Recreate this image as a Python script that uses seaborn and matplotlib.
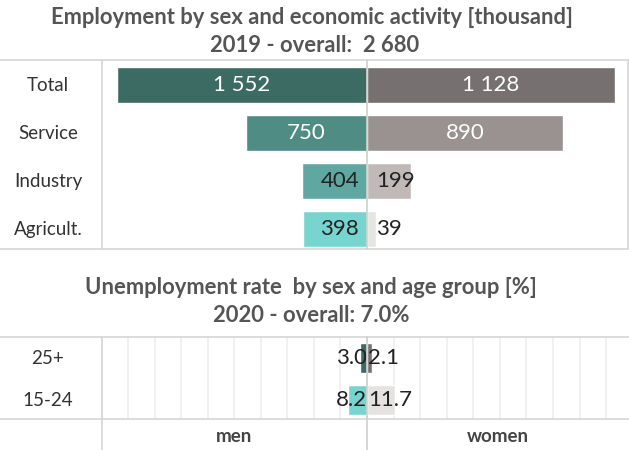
import matplotlib
matplotlib.use("Agg")
import matplotlib.pyplot as plt
import matplotlib.transforms as mtrans
from matplotlib.lines import Line2D
from matplotlib.ticker import MultipleLocator
import seaborn as sns
import pandas as pd

# ---------------- data ----------------
sectors = ["Total", "Service", "Industry", "Agricult."]
emp_men = [1552, 750, 404, 398]
emp_women = [1128, 890, 199, 39]
emp_men_labels = ["1 552", "750", "404", "398"]
emp_women_labels = ["1 128", "890", "199", "39"]

ages = ["25+", "15-24"]
unemp_men = [3.0, 8.2]
unemp_women = [2.1, 11.7]

title1 = "Employment by sex and economic activity [thousand]"
title1b = "2019 - overall:  2 680"
title2 = "Unemployment rate  by sex and age group [%]"
title2b = "2020 - overall: 7.0%"
sex_labels = ["men", "women"]

# ---------------- style ----------------
men_colors = ["#3b6b63", "#4e8c84", "#5fa8a2", "#78d4cf"]
women_colors = ["#767170", "#999291", "#c1b9b8", "#e6e5e4"]
men_colors2 = ["#3b6b63", "#78d4cf"]
women_colors2 = ["#767170", "#e4e3e1"]
LINE = "#d6d6d6"
TITLE_C = "#555555"

sns.set_theme(style="white")
plt.rcParams['font.family'] = ['Lato', 'DejaVu Sans']

W, H = 629, 450
fig = plt.figure(figsize=(W / 100, H / 100), dpi=100)


def ax_px(x0, y0, x1, y1):
    return fig.add_axes([x0 / W, 1 - y1 / H, (x1 - x0) / W, (y1 - y0) / H])


def hline(y, x0, x1, c=LINE):
    fig.add_artist(Line2D([x0 / W, x1 / W], [1 - y / H, 1 - y / H],
                          transform=fig.transFigure, color=c, lw=1.2))


def vline(x, y0, y1, c=LINE):
    fig.add_artist(Line2D([x / W, x / W], [1 - y0 / H, 1 - y1 / H],
                          transform=fig.transFigure, color=c, lw=1.2))


def clean(ax):
    for s in ax.spines.values():
        s.set_visible(False)
    ax.set_xticks([])
    ax.set_yticks([])
    ax.set_xlabel("")
    ax.set_ylabel("")
    ax.set_facecolor("none")


CX = 367
LX = 101.5
RX = 628

# ---------------- top panel ----------------
df1 = pd.DataFrame({"sector": sectors, "men": emp_men, "women": emp_women})
ax_m = ax_px(LX, 60, CX, 249.5)
ax_w = ax_px(CX, 60, RX, 249.5)
sns.barplot(data=df1, y="sector", x="men", hue="sector", palette=men_colors,
            orient="h", ax=ax_m, width=0.75, legend=False, saturation=1)
sns.barplot(data=df1, y="sector", x="women", hue="sector", palette=women_colors,
            orient="h", ax=ax_w, width=0.75, legend=False, saturation=1)
ax_m.set_xlim(1645, 0)
ax_w.set_xlim(0, 1187)
for a in (ax_m, ax_w):
    a.set_ylim(3.42, -0.52)
    clean(a)

NUM = dict(fontsize=16, fontweight="normal")
for i, v in enumerate(emp_men):
    if v > 600:
        ax_m.text(v / 2, i, emp_men_labels[i], ha="center", va="center",
                  color="white", **NUM)
    else:
        ax_m.annotate(emp_men_labels[i], (0, i), xytext=(-8, 0),
                      textcoords="offset pixels", ha="right", va="center",
                      color="#222222", **NUM)
for i, v in enumerate(emp_women):
    if v > 600:
        ax_w.text(v / 2, i, emp_women_labels[i], ha="center", va="center",
                  color="white", **NUM)
    else:
        ax_w.annotate(emp_women_labels[i], (0, i), xytext=(9, 0),
                      textcoords="offset pixels", ha="left", va="center",
                      color="#222222", **NUM)

tr = mtrans.blended_transform_factory(fig.transFigure, ax_m.transData)
for i, s in enumerate(sectors):
    ax_m.text(48 / W, i, s, transform=tr, ha="center", va="center",
              fontsize=13.5, color="#333333")

# ---------------- bottom panel ----------------
df2 = pd.DataFrame({"age": ages, "men": unemp_men, "women": unemp_women})
bx_m = ax_px(LX, 337, CX, 419)
bx_w = ax_px(CX, 337, RX, 419)
sns.barplot(data=df2, y="age", x="men", hue="age", palette=men_colors2,
            orient="h", ax=bx_m, width=0.7, legend=False, saturation=1)
sns.barplot(data=df2, y="age", x="women", hue="age", palette=women_colors2,
            orient="h", ax=bx_w, width=0.7, legend=False, saturation=1)
bx_m.set_xlim(112, 0)
bx_w.set_xlim(0, 110)
for a in (bx_m, bx_w):
    a.set_ylim(1.45, -0.5)
    clean(a)
    a.xaxis.set_major_locator(MultipleLocator(11.2))
    a.tick_params(axis="x", length=0, labelbottom=False)
    a.grid(axis="x", color="#ededed", lw=1.2)
    a.set_axisbelow(True)

for i, v in enumerate(unemp_men):
    bx_m.annotate(f"{v:.1f}", (0, i), xytext=(0, 0), textcoords="offset pixels",
                  ha="right", va="center", color="#222222", **NUM)
for i, v in enumerate(unemp_women):
    bx_w.annotate(f"{v:.1f}", (0, i), xytext=(1, 0), textcoords="offset pixels",
                  ha="left", va="center", color="#222222", **NUM)

tr2 = mtrans.blended_transform_factory(fig.transFigure, bx_m.transData)
for i, s in enumerate(ages):
    bx_m.text(48 / W, i, s, transform=tr2, ha="center", va="center",
              fontsize=13.5, color="#333333")

# ---------------- titles / headers ----------------
TT = dict(ha="center", va="center", fontsize=15.8, fontweight="bold", color=TITLE_C)
fig.text(312 / W, 1 - 18 / H, title1, **TT)
fig.text(315 / W, 1 - 45 / H, title1b, **TT)
fig.text(311 / W, 1 - 287 / H, title2, **TT)
fig.text(311 / W, 1 - 315 / H, title2b, **TT)

fig.text((LX + CX) / 2 / W, 1 - 437 / H, sex_labels[0], ha="center", va="center",
         fontsize=13.5, fontweight="bold", color="#444444")
fig.text((CX + RX) / 2 / W, 1 - 437 / H, sex_labels[1], ha="center", va="center",
         fontsize=13.5, fontweight="bold", color="#444444")

# ---------------- frame lines ----------------
hline(60, 0, RX)
hline(249.5, 0, RX)
vline(LX, 60, 249.5)
vline(RX, 60, 249.5)
vline(CX, 60, 249.5, c="#cfcfcf")
hline(337, 0, W)
hline(419, 0, W)
vline(LX, 337, H)
vline(CX, 337, H, c="#cfcfcf")

fig.savefig("out.png", dpi=100)
